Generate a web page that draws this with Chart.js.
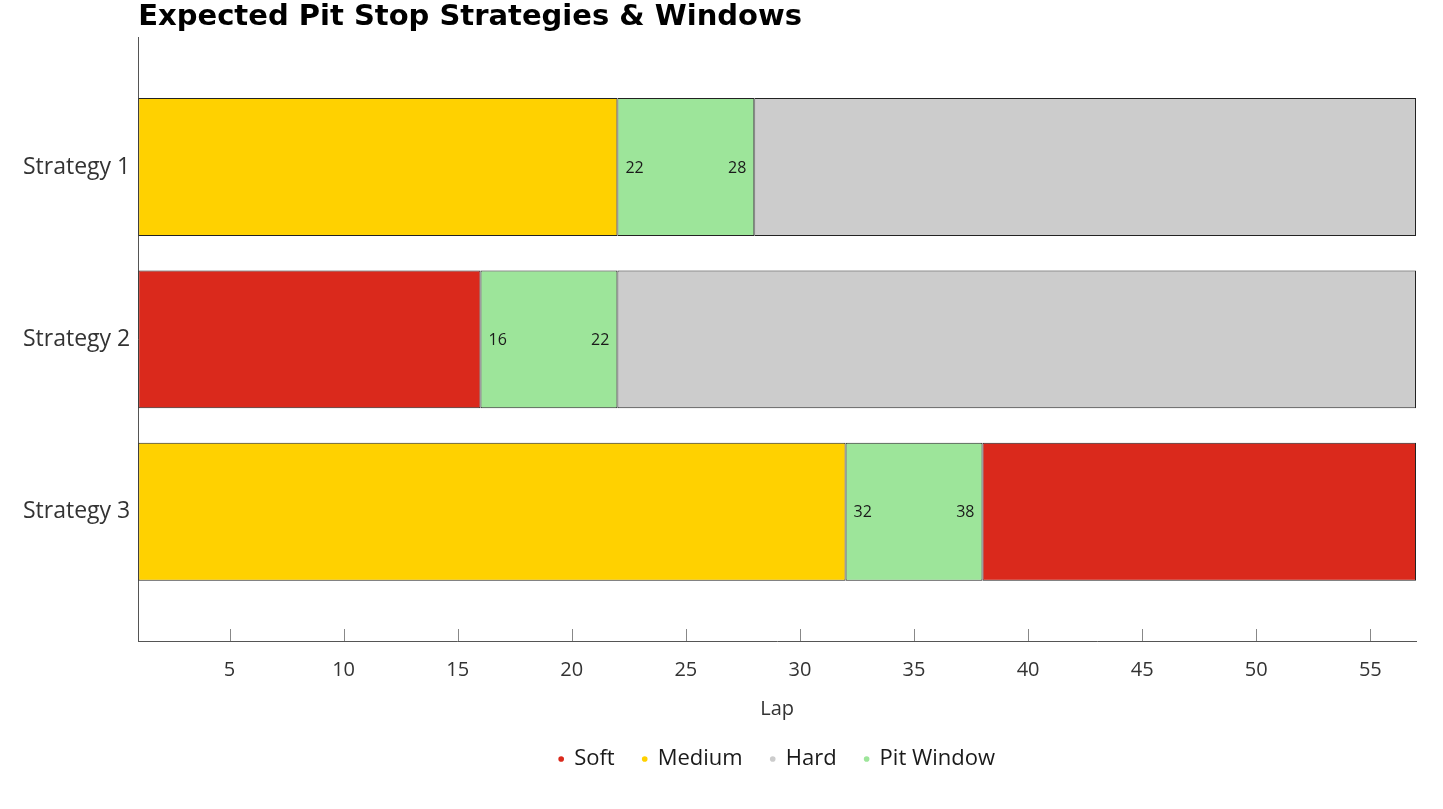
<!DOCTYPE html>
<html>
<head>
<meta charset="utf-8">
<title>Expected Pit Stop Strategies & Windows</title>
<script src="https://cdn.jsdelivr.net/npm/chart.js@4.4.1/dist/chart.umd.min.js"></script>
<style>
  html, body { margin: 0; padding: 0; background: #fff; }
  #wrap { width: 1443px; height: 809px; }
</style>
</head>
<body>
<div id="wrap"><canvas id="pitChart"></canvas></div>
<script>
// ── Data ──────────────────────────────────────────────────────────
const strategies = ["Strategy 1", "Strategy 2", "Strategy 3"];
const lapTicks   = [5, 10, 15, 20, 25, 30, 35, 40, 45, 50, 55];
const raceStart  = 1;
const raceEnd    = 57;

// [strategy index, first lap, last lap]
const softStints   = [[1, 1, 16], [2, 38, 57]];
const mediumStints = [[0, 1, 22], [2, 1, 32]];
const hardStints   = [[0, 28, 57], [1, 22, 57]];
const pitWindows   = [[0, 22, 28], [1, 16, 22], [2, 32, 38]];

const colors = {
  soft:   "#da291c",
  medium: "#ffd100",
  hard:   "#cccccc",
  pit:    "#9de59a",
};

const FONT = "'Open Sans', sans-serif";

function toPoints(stints) {
  return stints.map(([s, a, b]) => ({ y: s, x: [a, b] }));
}

function dataset(label, stints, color) {
  return {
    label,
    data: toPoints(stints),
    backgroundColor: color,
    borderColor: "#222",
    borderWidth: 1,
    borderSkipped: false,
    grouped: false,
    categoryPercentage: 0.8,
    barPercentage: 1.0,
  };
}

// ── Plugins ───────────────────────────────────────────────────────
// small upward tick marks on the lap axis
const innerTicks = {
  id: "innerTicks",
  afterDatasetsDraw(chart) {
    const { ctx, scales: { x }, chartArea } = chart;
    ctx.save();
    ctx.strokeStyle = "#888";
    ctx.lineWidth = 1;
    lapTicks.forEach(v => {
      const px = Math.round(x.getPixelForValue(v)) + 0.5;
      ctx.beginPath();
      ctx.moveTo(px, chartArea.bottom);
      ctx.lineTo(px, chartArea.bottom - 12);
      ctx.stroke();
    });
    ctx.restore();
  }
};

// start / end lap labels inside each pit window
const windowLabels = {
  id: "windowLabels",
  afterDatasetsDraw(chart) {
    const { ctx } = chart;
    const idx = chart.data.datasets.findIndex(d => d.label === "Pit Window");
    const meta = chart.getDatasetMeta(idx);
    ctx.save();
    ctx.font = `16px ${FONT}`;
    ctx.fillStyle = "#1a1a1a";
    ctx.textBaseline = "middle";
    meta.data.forEach((bar, i) => {
      const [, a, b] = pitWindows[i];
      const left = Math.min(bar.x, bar.base);
      const right = Math.max(bar.x, bar.base);
      ctx.textAlign = "left";
      ctx.fillText(String(a), left + 8, bar.y + 1);
      ctx.textAlign = "right";
      ctx.fillText(String(b), right - 8, bar.y + 1);
    });
    ctx.restore();
  }
};

// ── Chart ─────────────────────────────────────────────────────────
new Chart(document.getElementById("pitChart"), {
  type: "bar",
  data: {
    datasets: [
      dataset("Soft", softStints, colors.soft),
      dataset("Medium", mediumStints, colors.medium),
      dataset("Hard", hardStints, colors.hard),
      dataset("Pit Window", pitWindows, colors.pit),
    ]
  },
  options: {
    indexAxis: "y",
    responsive: true,
    maintainAspectRatio: false,
    animation: false,
    layout: { padding: { left: 15, right: 27, top: 0, bottom: 29 } },
    plugins: {
      title: {
        display: true,
        text: "Expected Pit Stop Strategies & Windows",
        align: "start",
        fullSize: false,
        color: "#000",
        font: { family: "'DejaVu Sans', sans-serif", size: 29, weight: "bold" },
        padding: { top: 0, bottom: 3 },
      },
      legend: {
        position: "bottom",
        fullSize: false,
        labels: {
          usePointStyle: true,
          pointStyle: "circle",
          boxWidth: 4,
          boxHeight: 4,
          padding: 28,
          color: "#1a1a1a",
          font: { family: FONT, size: 22 },
          generateLabels: chart =>
            Chart.defaults.plugins.legend.labels.generateLabels(chart)
              .map(l => ({ ...l, lineWidth: 0, strokeStyle: l.fillStyle })),
        }
      },
      tooltip: { enabled: false },
    },
    scales: {
      x: {
        type: "linear",
        min: raceStart,
        max: raceEnd,
        offset: false,
        afterBuildTicks: scale => { scale.ticks = lapTicks.map(v => ({ value: v })); },
        grid: { display: false, drawTicks: false },
        border: { display: true, color: "#555", width: 1 },
        ticks: { color: "#333", padding: 17, font: { family: FONT, size: 20 } },
        title: { display: true, text: "Lap", color: "#333", padding: { top: -2, bottom: -1 },
                 font: { family: FONT, size: 20 } },
      },
      y: {
        type: "linear",
        min: -0.75,
        max: 2.75,
        reverse: true,
        offset: false,
        afterBuildTicks: scale => { scale.ticks = strategies.map((_, i) => ({ value: i })); },
        grid: { display: false, drawTicks: false },
        border: { display: true, color: "#555", width: 1 },
        ticks: {
          color: "#333",
          padding: 8,
          font: { family: FONT, size: 23 },
          callback: v => strategies[v] ?? "",
        },
      },
    }
  },
  plugins: [innerTicks, windowLabels]
});
</script>
</body>
</html>
